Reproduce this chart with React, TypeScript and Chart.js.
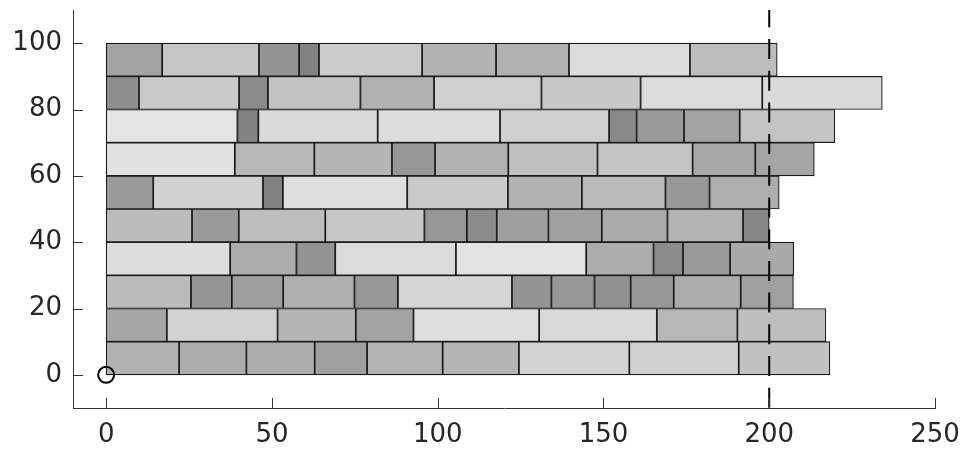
import React, { useEffect, useRef } from "react";
import { Chart, registerables } from "chart.js";

Chart.register(...registerables);

// Row centres (each brick row spans 10 units)
const rowCenters = [5, 15, 25, 35, 45, 55, 65, 75, 85, 95];

// Brick widths per row, left to right
const row0 = [22.0, 20.3, 20.6, 15.8, 22.8, 23.0, 33.3, 33.0, 27.5];
const row1 = [18.3, 33.4, 23.6, 17.4, 37.9, 35.5, 24.3, 26.7];
const row2 = [25.6, 12.3, 15.5, 21.5, 13.1, 34.4, 11.9, 13.0, 10.9, 13.0, 20.2, 15.9];
const row3 = [37.4, 20.0, 11.7, 36.4, 39.3, 20.3, 8.9, 14.2, 19.2];
const row4 = [25.9, 14.1, 26.1, 29.9, 12.8, 9.0, 15.6, 16.1, 19.8, 22.8, 7.9];
const row5 = [14.2, 33.1, 6.0, 37.5, 30.4, 22.3, 25.2, 13.3, 21.0];
const row6 = [38.8, 24.0, 23.4, 13.0, 22.1, 26.9, 28.7, 18.9, 17.8];
const row7 = [39.6, 6.3, 36.0, 36.9, 32.9, 8.3, 14.3, 16.8, 28.7];
const row8 = [9.9, 30.2, 8.7, 27.9, 22.2, 32.4, 29.9, 36.7, 36.2];
const row9 = [16.9, 29.2, 12.1, 6.0, 31.1, 22.3, 22.0, 36.5, 26.3];
const rows = [row0, row1, row2, row3, row4, row5, row6, row7, row8, row9];

const xTicks = [0, 50, 100, 150, 200, 250];
const yTicks = [0, 20, 40, 60, 80, 100];
const xRange = [-10, 250];
const yRange = [-10, 110];
const refLineX = 200;
const originX = [0];
const originY = [0];

function shade(w: number): string {
  const g = Math.round(Math.min(232, 113 + 2.9 * w));
  return `rgb(${g},${g},${g})`;
}

const AXIS_COLOR = "#333333";
const FONT = { family: "'DejaVu Sans', sans-serif", size: 26 };

const inwardTicks = {
  id: "inwardTicks",
  afterDatasetsDraw(chart: any) {
    const { ctx, chartArea, scales } = chart;
    ctx.save();
    ctx.strokeStyle = AXIS_COLOR;
    ctx.lineWidth = 1;
    ctx.beginPath();
    for (const v of xTicks) {
      const px = Math.round(scales.x.getPixelForValue(v)) + 0.5;
      ctx.moveTo(px, chartArea.bottom);
      ctx.lineTo(px, chartArea.bottom - 10);
    }
    for (const v of yTicks) {
      const py = Math.round(scales.y.getPixelForValue(v)) + 0.5;
      ctx.moveTo(chartArea.left, py);
      ctx.lineTo(chartArea.left + 10, py);
    }
    ctx.stroke();
    ctx.restore();
  },
};

export default function App() {
  const canvasRef = useRef<HTMLCanvasElement | null>(null);

  useEffect(() => {
    if (!canvasRef.current) return;
    const barData: any[] = [];
    const barColors: string[] = [];
    rows.forEach((row, r) => {
      let start = 0;
      row.forEach((w) => {
        barData.push({ x: [start, start + w], y: rowCenters[r] });
        barColors.push(shade(w));
        start += w;
      });
    });

    const chart = new Chart(canvasRef.current, {
      type: "bar",
      data: {
        datasets: [
          {
            type: "line",
            data: [
              { x: refLineX, y: yRange[1] },
              { x: refLineX, y: yRange[0] },
            ],
            borderColor: "#000000",
            borderWidth: 2,
            borderDash: [20, 11.7],
            borderDashOffset: 2.7,
            pointRadius: 0,
            fill: false,
            order: 0,
          } as any,
          {
            type: "scatter",
            data: originX.map((x, i) => ({ x, y: originY[i] })),
            pointStyle: "circle",
            pointRadius: 8,
            pointBorderWidth: 2,
            borderColor: "#000000",
            backgroundColor: "rgba(0,0,0,0)",
            order: 1,
          } as any,
          {
            type: "bar",
            data: barData,
            backgroundColor: barColors,
            borderColor: "#1a1a1a",
            borderWidth: 1.2,
            borderSkipped: false,
            barPercentage: 1,
            categoryPercentage: 1,
            grouped: false,
            order: 2,
          } as any,
        ],
      },
      options: {
        indexAxis: "y",
        animation: false,
        responsive: true,
        maintainAspectRatio: false,
        layout: { padding: { top: 10, right: 26, left: 0, bottom: 0 } },
        plugins: { legend: { display: false }, tooltip: { enabled: false } },
        scales: {
          x: {
            type: "linear",
            min: xRange[0],
            max: xRange[1],
            offset: false,
            grid: { display: false, drawTicks: false },
            border: { display: true, color: AXIS_COLOR, width: 1 },
            ticks: { color: "#262626", font: FONT, padding: 12, maxRotation: 0 },
            afterBuildTicks: (s: any) => {
              s.ticks = xTicks.map((v) => ({ value: v }));
            },
            afterFit: (s: any) => {
              s.height = 41;
              s.paddingLeft = 0;
              s.paddingRight = 0;
              s.paddingTop = 0;
              s.paddingBottom = 0;
            },
          },
          y: {
            type: "linear",
            min: yRange[0],
            max: yRange[1],
            offset: false,
            grid: { display: false, drawTicks: false },
            border: { display: true, color: AXIS_COLOR, width: 1 },
            ticks: { color: "#262626", font: FONT, padding: 11 },
            afterBuildTicks: (s: any) => {
              s.ticks = yTicks.map((v) => ({ value: v }));
            },
            afterFit: (s: any) => {
              s.width = 73;
              s.paddingLeft = 0;
              s.paddingRight = 0;
              s.paddingTop = 0;
              s.paddingBottom = 0;
            },
          },
        },
      } as any,
      plugins: [inwardTicks],
    });
    return () => chart.destroy();
  }, []);

  return (
    <div style={{ position: "fixed", left: 0, top: 0, width: 961, height: 449, background: "#fff" }}>
      <canvas ref={canvasRef} />
    </div>
  );
}
